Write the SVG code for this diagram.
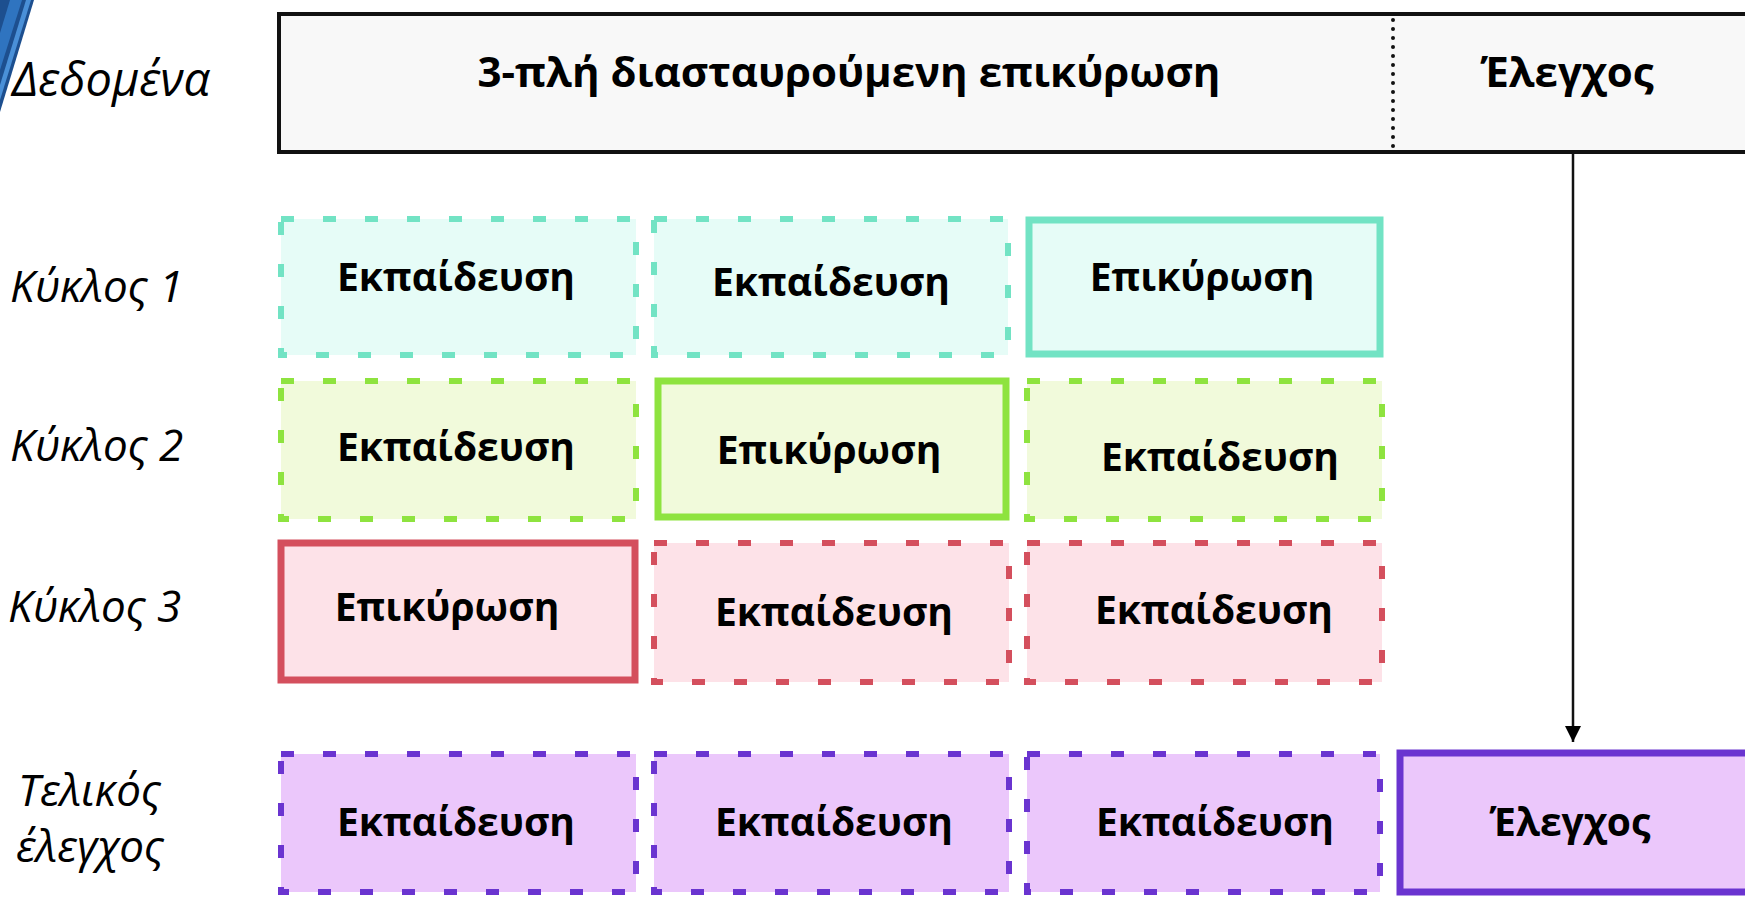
<svg xmlns="http://www.w3.org/2000/svg" width="1745" height="897" viewBox="0 0 1745 897">
<style>
.lbl{font-family:"Open Sans","Noto Sans",sans-serif;font-style:italic;font-size:44px;fill:#000}
.bt{font-family:"Open Sans","Noto Sans",sans-serif;font-weight:bold;font-size:39px;fill:#000;text-anchor:middle}
.ht{font-family:"Open Sans","Noto Sans",sans-serif;font-weight:bold;font-size:42px;fill:#000;text-anchor:middle}
.d{stroke-width:6;stroke-dasharray:13 29}
.s{stroke-width:7}
.r1{fill:#e6fcf7;stroke:#72e3c4}
.r2{fill:#f1fadb;stroke:#8ee33f}
.r3{fill:#fde2e8;stroke:#d44f5d}
.r4{fill:#ebc7fb;stroke:#6a34d0}
</style>
<defs>
<marker id="ah" viewBox="0 0 10 10" refX="10" refY="5" markerWidth="16" markerHeight="16" markerUnits="userSpaceOnUse" orient="auto">
<path d="M0,0 L10,5 L0,10 z" fill="#000"/>
</marker>
</defs>
<rect width="1745" height="897" fill="#fff"/>
<g id="deco">
<polygon points="0,0 34,0 0,112" fill="#1d4f8f"/>
<polygon points="10,0 22,0 0,70 0,33" fill="#2f74c0"/>
<polygon points="26,0 31,0 0,100 0,85" fill="#4a90d8"/>
</g>
<g id="labels">
<text class="lbl" x="12" y="96" style="font-size:47px">Δεδομένα</text>
<text class="lbl" x="10" y="302">Κύκλος 1</text>
<text class="lbl" x="10" y="461">Κύκλος 2</text>
<text class="lbl" x="8" y="622">Κύκλος 3</text>
<text class="lbl" x="18" y="806">Τελικός</text>
<text class="lbl" x="16" y="862">έλεγχος</text>
</g>
<g id="data">
<rect x="279" y="14" width="1470" height="138" fill="#f8f8f8" stroke="#111" stroke-width="4"/>
<line x1="1393" y1="20" x2="1393" y2="148" stroke="#111" stroke-width="4" stroke-linecap="round" stroke-dasharray="0 9"/>
<text class="ht" x="849" y="87">3-πλή διασταυρούμενη επικύρωση</text>
<text class="ht" x="1567" y="87">Έλεγχος</text>
</g>
<g id="cycle1">
<rect class="r1 d" x="281" y="219" width="355" height="136"/>
<rect class="r1 d" x="654" y="219" width="354" height="136"/>
<rect class="r1 s" x="1029" y="220" width="351" height="134"/>
<text class="bt" x="456" y="291">Εκπαίδευση</text>
<text class="bt" x="831" y="296">Εκπαίδευση</text>
<text class="bt" x="1202" y="291">Επικύρωση</text>
</g>
<g id="cycle2">
<rect class="r2 d" x="281" y="381" width="355" height="138"/>
<rect class="r2 s" x="658" y="381" width="348" height="136"/>
<rect class="r2 d" x="1027" y="381" width="355" height="138"/>
<text class="bt" x="456" y="461">Εκπαίδευση</text>
<text class="bt" x="829" y="464">Επικύρωση</text>
<text class="bt" x="1220" y="471">Εκπαίδευση</text>
</g>
<g id="cycle3">
<rect class="r3 s" x="281" y="543" width="354" height="137"/>
<rect class="r3 d" x="654" y="543" width="355" height="139"/>
<rect class="r3 d" x="1027" y="543" width="355" height="139"/>
<text class="bt" x="447" y="621">Επικύρωση</text>
<text class="bt" x="834" y="626">Εκπαίδευση</text>
<text class="bt" x="1214" y="624">Εκπαίδευση</text>
</g>
<g id="final">
<rect class="r4 d" x="281" y="754" width="355" height="138"/>
<rect class="r4 d" x="654" y="754" width="355" height="138"/>
<rect class="r4 d" x="1027" y="754" width="353" height="138"/>
<rect class="r4 s" x="1400" y="753" width="352" height="139"/>
<text class="bt" x="456" y="836">Εκπαίδευση</text>
<text class="bt" x="834" y="836">Εκπαίδευση</text>
<text class="bt" x="1215" y="836">Εκπαίδευση</text>
<text class="bt" x="1570" y="836">Έλεγχος</text>
</g>
<g id="connectors">
<line x1="1573" y1="154" x2="1573" y2="742" stroke="#111" stroke-width="2.5" marker-end="url(#ah)"/>
</g>
</svg>
